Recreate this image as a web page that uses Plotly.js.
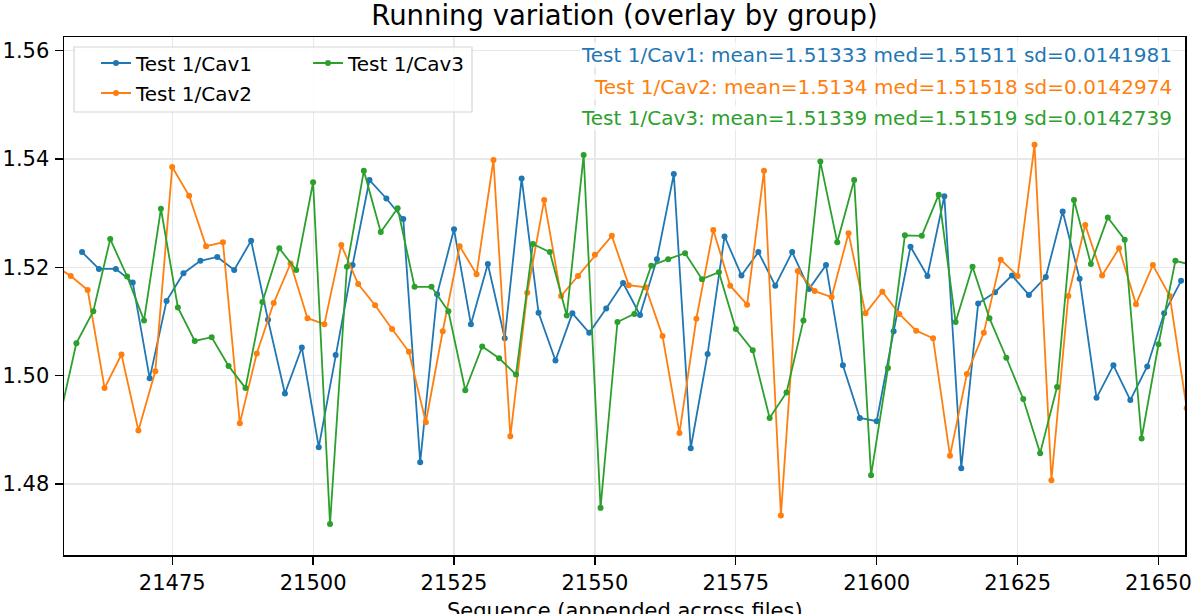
<!DOCTYPE html>
<html>
<head>
<meta charset="utf-8">
<script src="https://cdn.plot.ly/plotly-3.0.1.min.js"></script>
<style>html,body{margin:0;padding:0;background:#fff;}#chart{width:1198px;height:614px;}</style>
</head>
<body>
<div id="chart"></div>
<script>
// ---- data ----
const seriesNames = ["Test 1/Cav1", "Test 1/Cav2", "Test 1/Cav3"];
const seriesColors = ["#1f77b4", "#ff7f0e", "#2ca02c"];

const seqCav1 = [21459,21462,21465,21468,21471,21474,21477,21480,21483,21486,21489,21492,21495,21498,21501,21504,21507,21510,21513,21516,21519,21522,21525,21528,21531,21534,21537,21540,21543,21546,21549,21552,21555,21558,21561,21564,21567,21570,21573,21576,21579,21582,21585,21588,21591,21594,21597,21600,21603,21606,21609,21612,21615,21618,21621,21624,21627,21630,21633,21636,21639,21642,21645,21648,21651,21654];
const valCav1 = [1.5228,1.5197,1.5197,1.5172,1.4995,1.5138,1.5189,1.5212,1.5219,
  1.5195,1.5249,1.5103,1.4967,1.5052,1.4868,1.5038,1.5204,1.5361,1.5327,
  1.5289,1.4840,1.5150,1.5270,1.5095,1.5206,1.5069,1.5364,1.5116,1.5028,
  1.5115,1.5079,1.5124,1.5171,1.5112,1.5215,1.5372,1.4866,1.5040,1.5257,
  1.5185,1.5228,1.5166,1.5228,1.5160,1.5204,1.5019,1.4922,1.4916,
  1.5082,1.5238,1.5184,1.5331,1.4829,1.5133,1.5154,1.5185,1.5149,1.5182,
  1.5303,1.5179,1.4959,1.5019,1.4955,1.5017,1.5115,1.5175];

const seqCav2 = [21454,21457,21460,21463,21466,21469,21472,21475,21478,21481,21484,21487,21490,21493,21496,21499,21502,21505,21508,21511,21514,21517,21520,21523,21526,21529,21532,21535,21538,21541,21544,21547,21550,21553,21556,21559,21562,21565,21568,21571,21574,21577,21580,21583,21586,21589,21592,21595,21598,21601,21604,21607,21610,21613,21616,21619,21622,21625,21628,21631,21634,21637,21640,21643,21646,21649,21652,21655];
const valCav2 = [1.5204,
  1.5184,1.5158,1.4977,1.5039,1.4899,1.5008,1.5385,1.5332,1.5239,1.5246,
  1.4912,1.5041,1.5134,1.5207,1.5106,1.5095,1.5241,1.5169,1.5130,1.5086,
  1.5044,1.4914,1.5082,1.5239,1.5187,1.5398,1.4888,1.5153,1.5324,1.5147,
  1.5184,1.5223,1.5258,1.5167,1.5163,1.5073,1.4894,1.5105,1.5269,
  1.5166,1.5131,1.5378,1.4742,1.5193,1.5156,1.5145,1.5263,1.5115,1.5155,
  1.5114,1.5083,1.5069,1.4852,1.5003,1.5079,1.5214,1.5184,1.5426,1.4807,
  1.5147,1.5278,1.5185,1.5235,1.5132,1.5204,1.5147,
  1.4940];

const seqCav3 = [21455,21458,21461,21464,21467,21470,21473,21476,21479,21482,21485,21488,21491,21494,21497,21500,21503,21506,21509,21512,21515,21518,21521,21524,21527,21530,21533,21536,21539,21542,21545,21548,21551,21554,21557,21560,21563,21566,21569,21572,21575,21578,21581,21584,21587,21590,21593,21596,21599,21602,21605,21608,21611,21614,21617,21620,21623,21626,21629,21632,21635,21638,21641,21644,21647,21650,21653,21656];
const valCav3 = [1.4921,
  1.5060,1.5119,1.5252,1.5183,1.5102,1.5308,1.5126,1.5064,1.5071,1.5018,
  1.4977,1.5136,1.5235,1.5195,1.5357,1.4726,1.5201,1.5378,1.5265,
  1.5309,1.5164,1.5164,1.5119,1.4973,1.5054,1.5032,1.5002,1.5243,1.5228,
  1.5111,1.5407,1.4756,1.5099,1.5114,1.5203,1.5215,1.5226,1.5178,1.5191,
  1.5086,1.5047,1.4922,1.4969,1.5102,1.5395,1.5246,1.5361,1.4816,1.5014,
  1.5259,1.5258,1.5334,1.5099,1.5201,1.5106,1.5033,1.4957,1.4857,
  1.4979,1.5324,1.5206,1.5292,1.5251,1.4884,1.5058,1.5212,
  1.5204];

const statLabels = [
  "Test 1/Cav1: mean=1.51333 med=1.51511 sd=0.0141981",
  "Test 1/Cav2: mean=1.5134 med=1.51518 sd=0.0142974",
  "Test 1/Cav3: mean=1.51339 med=1.51519 sd=0.0142739"
];
const xTicks = [21475, 21500, 21525, 21550, 21575, 21600, 21625, 21650];
const yTicks = [1.48, 1.50, 1.52, 1.54, 1.56];
const xTitle = "Sequence (appended across files)";
const chartTitle = "Running variation (overlay by group)";

// ---- figure ----
const FONT = "DejaVu Sans, Liberation Sans, sans-serif";
const seqs = [seqCav1, seqCav2, seqCav3];
const vals = [valCav1, valCav2, valCav3];
const legendIds = ["legend", "legend2", "legend3"];

const traces = seriesNames.map((n, i) => ({
  type: "scatter", mode: "lines+markers", name: n,
  x: seqs[i], y: vals[i],
  line: {color: seriesColors[i], width: 1.8},
  marker: {color: seriesColors[i], size: 6},
  legend: legendIds[i]
}));

const plotW = 1198 - 64 - 13, plotH = 555 - 37;
const px = v => (v - 64) / plotW;
const py = v => 1 - (v - 37) / plotH;

const legendBase = {
  bgcolor: "rgba(0,0,0,0)", borderwidth: 0,
  font: {family: FONT, size: 20, color: "#000"},
  xanchor: "left", yanchor: "middle", orientation: "v"
};

const annY = [55, 87, 118];
const annotations = statLabels.map((t, i) => ({
  text: t, xref: "paper", yref: "paper",
  x: px(1173), y: py(annY[i]), xanchor: "right", yanchor: "middle",
  showarrow: false, font: {family: FONT, size: 20, color: seriesColors[i]},
  bgcolor: "rgba(255,255,255,0.75)", borderpad: 0
}));
// x-axis title (placed like the reference, at the bottom edge)
annotations.push({
  text: xTitle, xref: "paper", yref: "paper", x: 0.5, y: py(597),
  xanchor: "center", yanchor: "top", showarrow: false,
  font: {family: FONT, size: 21, color: "#000"}
});

const layout = {
  width: 1198, height: 614,
  margin: {l: 64, r: 13, t: 37, b: 59},
  paper_bgcolor: "#fff", plot_bgcolor: "#fff",
  font: {family: FONT, size: 21, color: "#000"},
  title: {text: chartTitle, x: 0.5, xref: "paper", xanchor: "center",
          y: 1 - 15/614, yref: "container", yanchor: "middle",
          font: {family: FONT, size: 27.5, color: "#000"}},
  xaxis: {
    range: [21455.8, 21654.7], tickvals: xTicks, tickformat: "d", ticks: "outside", ticklen: 8, tickwidth: 1.3,
    tickcolor: "#000", showline: true, linecolor: "#000", linewidth: 1.5, mirror: true,
    showgrid: true, gridcolor: "#e8e8e8", gridwidth: 1.2, zeroline: false,
    tickfont: {family: FONT, size: 21, color: "#000"},
    automargin: false
  },
  yaxis: {
    range: [1.4669, 1.5625], tickvals: yTicks, tickformat: ".2f", ticks: "outside", ticklen: 8, tickwidth: 1.3,
    tickcolor: "#000", showline: true, linecolor: "#000", linewidth: 1.5, mirror: true,
    showgrid: true, gridcolor: "#e8e8e8", gridwidth: 1.2, zeroline: false,
    tickfont: {family: FONT, size: 21, color: "#000"},
    ticklabelstandoff: 1,
    automargin: false
  },
  showlegend: true,
  legend: Object.assign({}, legendBase, {x: px(96), y: py(63)}),
  legend2: Object.assign({}, legendBase, {x: px(96), y: py(93)}),
  legend3: Object.assign({}, legendBase, {x: px(308), y: py(63)}),
  shapes: [{
    type: "rect", xref: "paper", yref: "paper",
    x0: px(74), x1: px(472), y0: py(112), y1: py(47),
    line: {color: "#d6d6d6", width: 1.2}, fillcolor: "rgba(255,255,255,0.8)", layer: "above"
  }],
  annotations: annotations
};

Plotly.newPlot("chart", traces, layout, {displayModeBar: false, staticPlot: true});
</script>
</body>
</html>
